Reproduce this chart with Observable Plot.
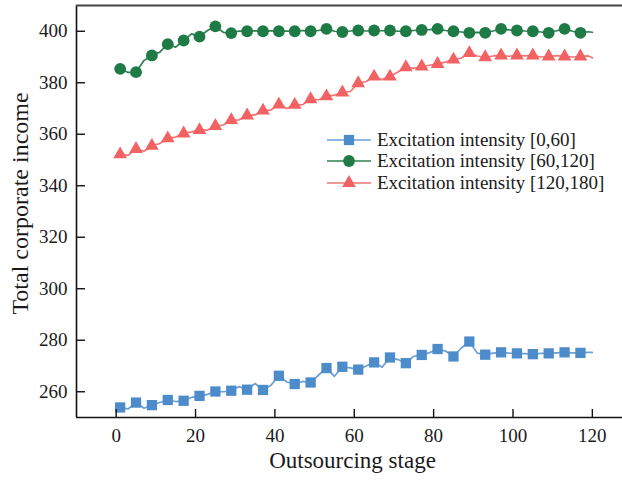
<!DOCTYPE html>
<html><head><meta charset="utf-8">
<script src="https://cdn.jsdelivr.net/npm/d3@7"></script>
<script src="https://cdn.jsdelivr.net/npm/@observablehq/plot@0.6"></script>
<style>
body{margin:0;background:#fff;}
#wrap{position:relative;width:622px;height:482px;overflow:hidden;}
#legend{position:absolute;left:325px;top:129px;font-family:"Liberation Serif","Times New Roman",serif;font-size:19px;color:#1a1a1a;}
.row{display:flex;align-items:center;height:21.5px;white-space:nowrap;}
.row svg{margin-right:4px;}
</style></head>
<body><div id="wrap"><div id="chart"></div><div id="legend"></div></div>
<script>
const stages = [1,3,5,7,9,11,13,15,17,19,21,23,25,27,29,31,33,35,37,39,41,43,45,47,49,51,53,55,57,59,61,63,65,67,69,71,73,75,77,79,81,83,85,87,89,91,93,95,97,99,101,103,105,107,109,111,113,115,117,119,120];
const markerStages = [1,5,9,13,17,21,25,29,33,37,41,45,49,53,57,61,65,69,73,77,81,85,89,93,97,101,105,109,113,117];
const blueValues = [253.9,253.3,255.8,253.6,254.8,255.8,256.8,256.2,256.5,257.8,258.4,259.0,260.1,260.0,260.4,262.0,260.8,263.2,260.7,262.5,266.2,263.8,263.0,264.0,263.6,266.5,269.2,266.0,269.7,269.3,268.6,270.0,271.4,269.5,273.3,272.5,271.1,273.8,274.3,275.2,276.6,275.8,273.7,277.0,279.5,275.0,274.4,275.0,275.3,275.0,274.9,274.8,274.6,274.9,274.9,275.1,275.3,275.1,275.1,275.3,275.3];
const greenValues = [385.4,384.0,384.1,388.6,390.6,391.9,395.0,393.8,396.4,399.0,397.9,400.3,401.9,399.6,399.3,400.1,400.0,400.2,400.0,400.2,400.0,400.1,400.0,400.3,400.0,400.3,400.9,400.0,399.7,400.1,400.3,400.1,400.3,400.2,400.3,400.0,400.0,400.3,400.5,400.6,400.9,400.3,400.0,399.7,399.4,399.6,399.4,400.1,400.9,400.5,400.3,400.1,400.0,399.7,399.4,400.2,400.9,400.0,399.4,399.8,399.6];
const redValues = [352.2,351.8,354.3,353.4,355.5,356.4,358.4,358.9,360.3,360.9,361.6,361.6,363.2,363.6,365.5,365.6,367.3,367.5,369.2,369.4,371.5,370.0,371.4,371.5,373.6,373.4,374.7,375.2,376.2,376.6,379.8,380.5,382.4,381.2,382.4,384.2,386.0,385.6,386.3,386.8,387.3,388.0,389.0,389.6,391.5,390.4,389.9,390.4,390.6,390.3,390.6,390.4,390.6,390.0,390.2,390.5,390.2,390.0,390.2,390.4,389.7];
const seriesNames = ["Excitation intensity [0,60]","Excitation intensity [60,120]","Excitation intensity [120,180]"];
const xTicks = [0,20,40,60,80,100,120];
const yTicks = [260,280,300,320,340,360,380,400];
const xDomain = [-10,127.6];
const yDomain = [250,410];
const xTitle = "Outsourcing stage";
const yTitle = "Total corporate income";

const styles = [
  {fill:"#4d8ccb", line:"#6a9fd4", symbol:"square", r:5.8},
  {fill:"#1f7b46", line:"#2f7f51", symbol:"circle", r:5.9},
  {fill:"#f26262", line:"#f27474", symbol:"triangle", r:5.1}
];
const allValues = [blueValues, greenValues, redValues];
const rows = allValues.map((vals,i)=>stages.map((s,j)=>({series:seriesNames[i], stage:s, value:vals[j]})));

const W=622,H=482,mL=76,mR=0,mT=5,mB=65;
const frameW=W-mL-mR, frameH=H-mT-mB;
const font='"Liberation Serif","Times New Roman",serif';

const marks = [];
rows.forEach((r,i)=>{
  marks.push(Plot.line(r,{x:"stage",y:"value",stroke:styles[i].line,strokeWidth:1.7,curve:"linear"}));
});
rows.forEach((r,i)=>{
  marks.push(Plot.dot(r.filter(d=>markerStages.includes(d.stage)),{x:"stage",y:"value",symbol:()=>styles[i].symbol,fill:styles[i].fill,stroke:"none",r:styles[i].r}));
});
marks.push(
  Plot.ruleX([xDomain[0]],{stroke:"#111",strokeWidth:1.6}),
  Plot.ruleY([yDomain[0]],{stroke:"#111",strokeWidth:1.6}),
  Plot.ruleY([yDomain[1]],{stroke:"#444",strokeWidth:2}),
  Plot.tickX(xTicks,{x:d=>d,stroke:"#111",strokeWidth:1.4,insetTop:frameH-8}),
  Plot.tickY(yTicks,{y:d=>d,stroke:"#111",strokeWidth:1.4,insetRight:frameW-9}),
  Plot.axisX(xTicks,{tickSize:0,tickPadding:11,fontSize:19,label:null,fill:"#1a1a1a"}),
  Plot.axisY(yTicks,{tickSize:0,tickPadding:9,fontSize:19,label:null,fill:"#1a1a1a"}),
  Plot.text([xTitle],{text:d=>d,frameAnchor:"bottom",dy:50,dx:3,fontSize:23,fill:"#1a1a1a"}),
  Plot.text([yTitle],{text:d=>d,frameAnchor:"left",textAnchor:"middle",dx:-56,dy:-8,rotate:-90,fontSize:24,fill:"#1a1a1a"})
);

const chart = Plot.plot({
  width:W,height:H,marginLeft:mL,marginRight:mR,marginTop:mT,marginBottom:mB,
  x:{domain:xDomain},
  y:{domain:yDomain},
  style:{fontFamily:font,background:"#fff",overflow:"visible"},
  marks
});
document.getElementById("chart").appendChild(chart);

// legend
const legend = d3.select("#legend");
seriesNames.forEach((name,i)=>{
  const row = legend.append("div").attr("class","row");
  const svg = row.append("svg").attr("width",48).attr("height",16);
  svg.append("line").attr("x1",2).attr("x2",46).attr("y1",8).attr("y2",8).attr("stroke",styles[i].line).attr("stroke-width",1.7);
  const sym = {square:d3.symbolSquare,circle:d3.symbolCircle,triangle:d3.symbolTriangle}[styles[i].symbol];
  svg.append("path").attr("transform","translate(24,8)").attr("d",d3.symbol(sym,Math.PI*styles[i].r*styles[i].r)()).attr("fill",styles[i].fill);
  row.append("span").text(name);
});
</script>
</body></html>
